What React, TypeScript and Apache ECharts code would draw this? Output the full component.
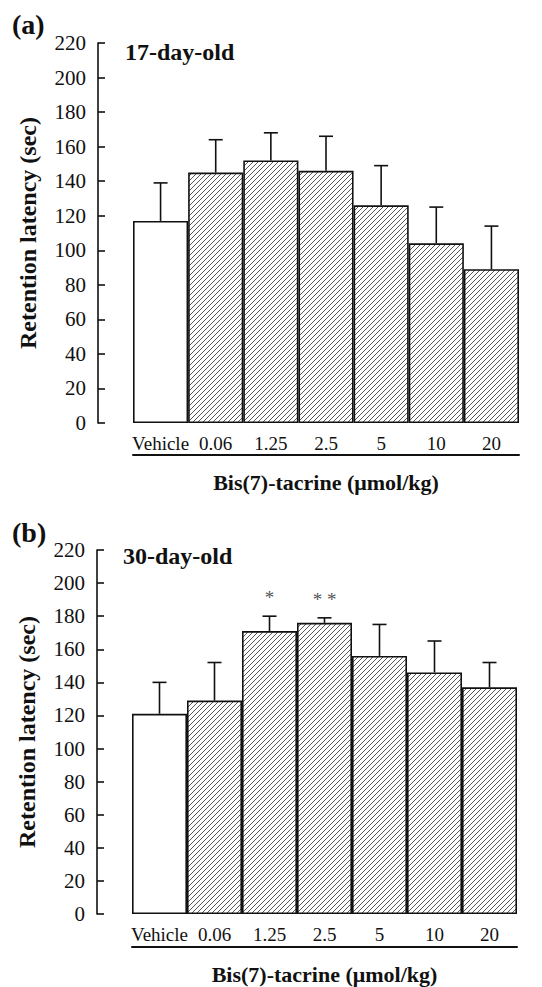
import React, { useEffect, useRef } from 'react';
import * as echarts from 'echarts';

const categories = ['Vehicle', '0.06', '1.25', '2.5', '5', '10', '20'];
const meansA = [117, 145, 152, 146, 126, 104, 89];
const errA = [22, 19, 16, 20, 23, 21, 25];
const meansB = [121, 129, 171, 176, 156, 146, 137];
const errB = [19, 23, 9, 3, 19, 19, 15];
const sigA = ['', '', '', '', '', '', ''];
const sigB = ['', '', '*', '* *', '', '', ''];
const yMin = 0;
const yMax = 220;
const yStep = 20;

const FONT = "'Times New Roman', 'Liberation Serif', serif";

const hatchSvg =
  'data:image/svg+xml;utf8,' +
  encodeURIComponent(
    "<svg xmlns='http://www.w3.org/2000/svg' width='5' height='5'><path d='M-1,1 L1,-1 M0,5 L5,0 M4,6 L6,4' stroke='#444' stroke-width='0.9'/></svg>"
  );

const hatch: any = { image: hatchSvg, repeat: 'repeat', imageWidth: 5, imageHeight: 5 };

function barData(means: number[]) {
  return means.map((v, i) => ({
    value: v,
    itemStyle: { color: i === 0 ? '#fff' : hatch },
  }));
}

function errSeries(means: number[], errs: number[], sig: string[], idx: number) {
  return {
    type: 'custom',
    xAxisIndex: idx * 2,
    yAxisIndex: idx,
    z: 5,
    data: means.map((m, i) => [i, m, errs[i]]),
    renderItem: (params: any, api: any) => {
      const x = api.value(0);
      const m = api.value(1);
      const e = api.value(2);
      const p0 = api.coord([x, m]);
      const p1 = api.coord([x, m + e]);
      const st = { stroke: '#111', lineWidth: 1.6 };
      const children: any[] = [
        { type: 'line', shape: { x1: p0[0], y1: p0[1], x2: p1[0], y2: p1[1] }, style: st },
        { type: 'line', shape: { x1: p1[0] - 7, y1: p1[1], x2: p1[0] + 7, y2: p1[1] }, style: st },
      ];
      const s = sig[params.dataIndex];
      if (s) {
        children.push({
          type: 'text',
          x: p1[0],
          y: p1[1] - 9,
          style: {
            text: s,
            fill: '#555',
            font: `19px ${FONT}`,
            textAlign: 'center',
            textVerticalAlign: 'bottom',
          },
        });
      }
      return { type: 'group', children };
    },
  };
}

function axesFor(idx: number, lineOffset: number) {
  const xMain = {
    type: 'category',
    gridIndex: idx,
    data: categories,
    axisLine: { show: false },
    axisTick: { show: false },
    axisLabel: { color: '#111', fontSize: 19, fontFamily: FONT, margin: 11, interval: 0 },
  };
  const xLine = {
    type: 'category',
    gridIndex: idx,
    position: 'bottom',
    offset: lineOffset,
    data: categories,
    axisLine: { show: true, lineStyle: { color: '#111', width: 2 } },
    axisTick: { show: false },
    axisLabel: { show: false },
    name: 'Bis(7)-tacrine (μmol/kg)',
    nameLocation: 'middle',
    nameGap: 16,
    nameTextStyle: { color: '#111', fontSize: 22, fontWeight: 'bold', fontFamily: FONT },
  };
  const y = {
    type: 'value',
    gridIndex: idx,
    min: yMin,
    max: yMax,
    interval: yStep,
    offset: 35,
    axisLine: { show: true, lineStyle: { color: '#111', width: 1.6 } },
    axisTick: { show: true, inside: true, length: 7, lineStyle: { color: '#111', width: 1.6 } },
    axisLabel: { color: '#111', fontSize: 21, fontFamily: FONT, margin: 12 },
    splitLine: { show: false },
    name: 'Retention latency (sec)',
    nameLocation: 'middle',
    nameGap: 58,
    nameTextStyle: { color: '#111', fontSize: 24, fontWeight: 'bold', fontFamily: FONT },
  };
  return { xs: [xMain, xLine], y };
}

export default function App() {
  const ref = useRef<HTMLDivElement>(null);
  useEffect(() => {
    if (!ref.current) return;
    const chart = echarts.init(ref.current, null, { renderer: 'svg' });
    const a = axesFor(0, 32);
    const b = axesFor(1, 33);
    const barStyle = { borderColor: '#111', borderWidth: 1.6 };
    chart.setOption({
      animation: false,
      backgroundColor: '#fff',
      grid: [
        { left: 133, right: 23, top: 43, height: 380 },
        { left: 132, right: 25, top: 550, height: 364 },
      ],
      xAxis: [...a.xs, ...b.xs],
      yAxis: [a.y, b.y],
      graphic: [
        { type: 'text', left: 12, top: 10, style: { text: '(a)', font: `bold 28px ${FONT}`, fill: '#111' } },
        { type: 'text', left: 125, top: 40, style: { text: '17-day-old', font: `bold 24px ${FONT}`, fill: '#111' } },
        { type: 'text', left: 12, top: 518, style: { text: '(b)', font: `bold 28px ${FONT}`, fill: '#111' } },
        { type: 'text', left: 123, top: 544, style: { text: '30-day-old', font: `bold 24px ${FONT}`, fill: '#111' } },
      ],
      series: [
        {
          type: 'bar',
          xAxisIndex: 0,
          yAxisIndex: 0,
          barCategoryGap: '0%',
          itemStyle: barStyle,
          data: barData(meansA),
        },
        errSeries(meansA, errA, sigA, 0),
        {
          type: 'bar',
          xAxisIndex: 2,
          yAxisIndex: 1,
          barCategoryGap: '0%',
          itemStyle: barStyle,
          data: barData(meansB),
        },
        errSeries(meansB, errB, sigB, 1),
      ],
    });
    return () => chart.dispose();
  }, []);
  return (
    <div
      ref={ref}
      style={{ position: 'absolute', left: 0, top: 0, width: 542, height: 987, background: '#fff' }}
    />
  );
}
